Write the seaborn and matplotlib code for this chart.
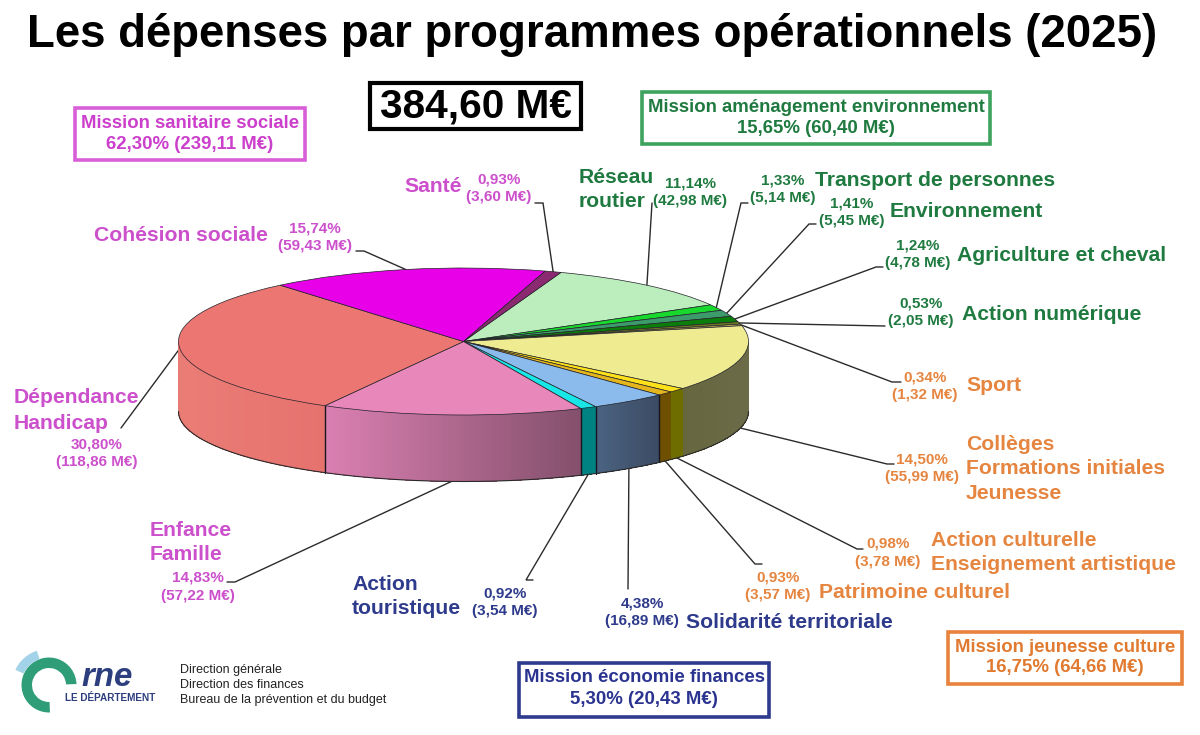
import numpy as np
import matplotlib
matplotlib.use("Agg")
import matplotlib.pyplot as plt
from matplotlib.collections import PolyCollection
from matplotlib.colors import to_rgb
from matplotlib.patches import Rectangle, Wedge
import seaborn as sns

# Operating expenditure by programme, clockwise from "Réseau routier"
programmes = ["Réseau routier", "Transport de personnes", "Environnement",
              "Agriculture et cheval", "Action numérique", "Sport",
              "Collèges", "Action culturelle", "Patrimoine culturel",
              "Solidarité territoriale", "Action touristique",
              "Enfance Famille", "Dépendance Handicap", "Cohésion sociale", "Santé"]
shares = [11.14, 1.33, 1.41, 1.24, 0.53, 0.34, 14.50, 0.98, 0.93,
          4.38, 0.92, 14.83, 30.80, 15.74, 0.93]
amounts = [42.98, 5.14, 5.45, 4.78, 2.05, 1.32, 55.99, 3.78, 3.57,
           16.89, 3.54, 57.22, 118.86, 59.43, 3.60]

top_colors = ["#BCEDBC", "#19D82D", "#3D9B6B", "#0B7D0B", "#6B7A20", "#CDBB60",
              "#EEEB90", "#FFE119", "#E5B61C", "#8ABBEC", "#19E6E6",
              "#E887BA", "#EC7672", "#E800E8", "#8B2A70"]
wall_left = ["#BCEDBC", "#19D82D", "#3D9B6B", "#0B7D0B", "#6B7A20", "#CDBB60",
             "#66663F", "#6E6E00", "#6E5000", "#4B6482", "#008282",
             "#DB80B2", "#EA7C76", "#E800E8", "#8B2A70"]
wall_right = ["#BCEDBC", "#19D82D", "#3D9B6B", "#0B7D0B", "#6B7A20", "#CDBB60",
              "#6B6B48", "#6E6E00", "#6E5000", "#3C4B64", "#008282",
              "#84506C", "#E6726E", "#E800E8", "#8B2A70"]

mission_titles = ["Mission sanitaire sociale", "Mission aménagement environnement",
                  "Mission jeunesse culture", "Mission économie finances"]
mission_shares = [62.30, 15.65, 16.75, 5.30]
mission_amounts = [239.11, 60.40, 64.66, 20.43]
total_amount = 384.60

PINK, GREEN, ORANGE, NAVY = "#CC4FCC", "#1F7A40", "#E5853F", "#2E3A8C"
mission_edges = ["#D95FD9", "#3DA35D", "#E8823C", "#2F3A8F"]
mission_text = ["#CC3FCC", "#1F7A40", "#E07A30", "#2A3490"]
mission_boxes = [(75, 108, 305, 160), (642, 92, 990, 144),
                 (948, 632, 1182, 684), (519, 663, 769, 717)]

label_colors = [GREEN] * 5 + [ORANGE] * 4 + [NAVY] * 2 + [PINK] * 4
name_lines = [["Réseau", "routier"], ["Transport de personnes"], ["Environnement"],
              ["Agriculture et cheval"], ["Action numérique"], ["Sport"],
              ["Collèges", "Formations initiales", "Jeunesse"],
              ["Action culturelle", "Enseignement artistique"], ["Patrimoine culturel"],
              ["Solidarité territoriale"], ["Action", "touristique"],
              ["Enfance", "Famille"], ["Dépendance", "Handicap"],
              ["Cohésion sociale"], ["Santé"]]
name_x = [579, 815, 890, 957, 962, 966, 966, 931, 819, 686, 352, 150, 14, 94, 404]
name_y = [[177, 201], [180], [211], [255], [314], [385], [444, 468, 493],
          [540, 565], [593], [622], [584, 609], [530, 555], [397, 423], [235], [186]]
value_x = [690, 783, 852, 918, 921, 925, 922, 888, 778, 642, 505, 198, 97, 315, 499]
value_y = [183, 180, 203, 245, 303, 377, 459, 544, 577, 603, 593, 578, 444, 228, 179]
# Outer end of each leader line, with its short horizontal tab
leader_end = [(652, 203), (748, 203), (816, 224), (883, 267), (885, 326), (901, 382),
              (894, 464), (863, 549), (762, 564), (628, 589), (533, 580),
              (227, 582), (121, 428), (356, 251), (535, 203)]
leader_tab = [None, (741, 203), (809, 224), (876, 267), None, (892, 382),
              (887, 464), (857, 549), (755, 564), None, (526, 580),
              (235, 582), None, (364, 251), (543, 203)]

FIRST_EDGE = 20.0  # degrees clockwise from the back of the disc
CX, CY, RX, RY = 463.5, 341.5, 285.0, 73.5
WALL_CY, WALL_RY = 411.5, 70.0

sns.set_theme(style="white")
plt.rcParams["font.family"] = ["Liberation Sans", "DejaVu Sans"]
plt.rcParams["font.weight"] = "bold"

fig = plt.figure(figsize=(12, 7.35), dpi=100, facecolor="white")
ax = fig.add_axes([0, 0, 1, 1])
ax.set_xlim(0, 1200)
ax.set_ylim(735, 0)
ax.axis("off")


def fr(v):
    return f"{v:.2f}".replace(".", ",")


def px(size):
    return size * 0.72


share_arr = np.array(shares)
edges = FIRST_EDGE + np.concatenate([[0], np.cumsum(share_arr)]) * 3.6

# Side wall of the disc: gradient quads on the front half only
for i in range(len(shares)):
    a0, a1 = max(edges[i], 90.0), min(edges[i + 1], 270.0)
    if a1 <= a0:
        continue
    th = np.radians(np.linspace(a0, a1, max(int((a1 - a0) * 2), 2)))
    xs = CX + RX * np.sin(th)
    top = CY - RY * np.cos(th)
    bot = WALL_CY - WALL_RY * np.cos(th)
    c_r, c_l = np.array(to_rgb(wall_right[i])), np.array(to_rgb(wall_left[i]))
    quads, cols = [], []
    for k in range(len(th) - 1):
        quads.append([(xs[k], top[k]), (xs[k + 1], top[k + 1]),
                      (xs[k + 1], bot[k + 1]), (xs[k], bot[k])])
        t = 1 - (xs[k] - xs.min()) / max(np.ptp(xs), 1)
        cols.append(c_r * (1 - t) + c_l * t)
    ax.add_collection(PolyCollection(quads, facecolors=cols, edgecolors="none", linewidths=0,
                                     antialiased=False, zorder=2))
    # Seams between the front slices
    if 9 <= i <= 11:
        ax.plot([xs[0], xs[0]], [top[0], bot[0]], color="#15151f", lw=1.0, zorder=3)
    if i == 11:
        ax.plot([xs[-1], xs[-1]], [top[-1], bot[-1]], color="#15151f", lw=1.0, zorder=3)

# Lower rim of the wall
th = np.radians(np.linspace(90, 270, 400))
ax.plot(CX + RX * np.sin(th), WALL_CY - WALL_RY * np.cos(th), color="#2a2a2a", lw=0.8, zorder=3)

# Leader lines run from each slice's mid-angle out to its value label
mids = (edges[:-1] + edges[1:]) / 2
for i, m in enumerate(mids):
    r = np.radians(m % 360)
    on_wall = 100 < (m % 360) < 260
    y0 = (WALL_CY - WALL_RY * np.cos(r)) if on_wall else (CY - RY * np.cos(r))
    pts = [(CX + RX * np.sin(r), y0)]
    if leader_tab[i] is not None:
        pts.append(leader_tab[i])
    pts.append(leader_end[i])
    ax.plot(*zip(*pts), color="#2b2b2b", lw=1.0, zorder=1, solid_joinstyle="miter")

# Top face of the disc
ax_pie = fig.add_axes([(CX - RX) / 1200, 1 - (CY + RY) / 735, 2 * RX / 1200, 2 * RY / 735], zorder=5)
ax_pie.pie(shares, colors=sns.color_palette(top_colors, len(top_colors)), radius=1.0,
           startangle=90 - FIRST_EDGE, counterclock=False,
           wedgeprops=dict(edgecolor="#22222a", linewidth=0.5))
ax_pie.set_aspect("auto")
ax_pie.set_xlim(-1, 1)
ax_pie.set_ylim(-1, 1)
ax_pie.patch.set_alpha(0)

# Programme names and their values
for i in range(len(programmes)):
    for line, y in zip(name_lines[i], name_y[i]):
        ax.text(name_x[i], y, line, color=label_colors[i], fontsize=px(21.2), ha="left", va="center")
    ax.text(value_x[i], value_y[i], f"{fr(shares[i])}%", color=label_colors[i],
            fontsize=px(15.3), ha="center", va="center")
    ax.text(value_x[i], value_y[i] + 18, f"({fr(amounts[i])} M€)", color=label_colors[i],
            fontsize=px(15.3), ha="center", va="center")

# Mission summary boxes
for title, s, a, box, ec, tc in zip(mission_titles, mission_shares, mission_amounts,
                                    mission_boxes, mission_edges, mission_text):
    x0, y0, x1, y1 = box
    ax.add_patch(Rectangle((x0, y0), x1 - x0, y1 - y0, fill=False, ec=ec, lw=2.6))
    xm = (x0 + x1) / 2
    ax.text(xm, y0 + 15, title, color=tc, fontsize=px(18.6), ha="center", va="center")
    ax.text(xm, y0 + 36, f"{fr(s)}% ({fr(a)} M€)", color=tc, fontsize=px(18.6), ha="center", va="center")

# Title and overall total
ax.text(592, 35, "Les dépenses par programmes opérationnels (2025)", color="black",
        fontsize=px(45.6), ha="center", va="center")
ax.add_patch(Rectangle((370, 83), 211, 46, fill=False, ec="black", lw=3))
ax.text(475.5, 106, f"{fr(total_amount)} M€", color="black", fontsize=px(40.5), ha="center", va="center")

# Department logo and issuing services
ax.add_patch(Wedge((49, 685), 27.5, 88, 358, width=10.5, fc="#2F9E78", ec="none"))
ax.add_patch(Wedge((48, 685), 36, 205, 252, width=9, fc="#A3D3E8", ec="none"))
ax.text(81, 678, "rne", color="#2D3E7E", fontsize=px(33), style="italic", ha="left", va="center")
ax.text(65, 698, "LE DÉPARTEMENT", color="#2D3E7E", fontsize=px(10), ha="left", va="center")
for y, line in zip([670, 685, 700], ["Direction générale", "Direction des finances",
                                     "Bureau de la prévention et du budget"]):
    ax.text(180, y, line, color="#222222", fontsize=px(12.5), weight="normal", ha="left", va="center")

fig.savefig("out.png", dpi=100)
